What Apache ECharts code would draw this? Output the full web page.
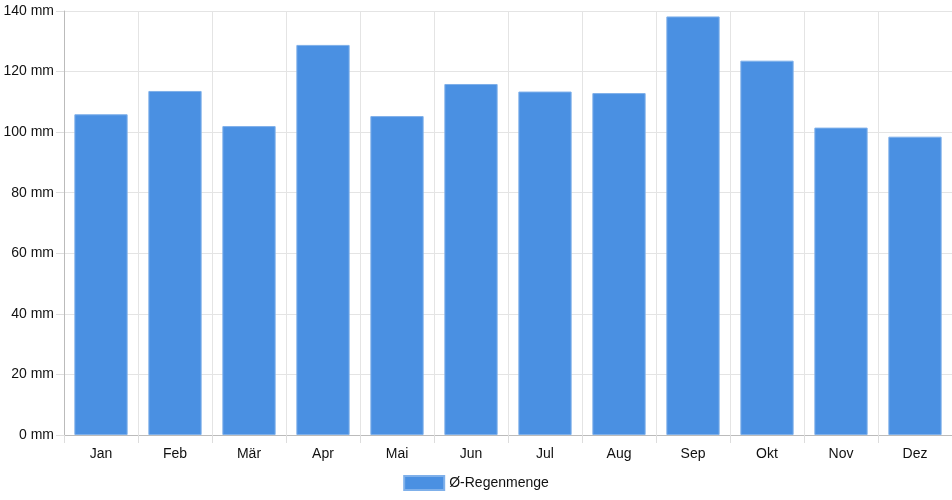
<!DOCTYPE html>
<html>
<head>
<meta charset="utf-8">
<script src="https://cdn.jsdelivr.net/npm/echarts@6/dist/echarts.min.js"></script>
<style>
  html, body { margin: 0; padding: 0; background: #fff; }
  #main { width: 952px; height: 500px; }
</style>
</head>
<body>
<div id="main"></div>
<script>
// Monatsnamen und mittlere Regenmenge (mm)
var months = ['Jan', 'Feb', 'Mär', 'Apr', 'Mai', 'Jun', 'Jul', 'Aug', 'Sep', 'Okt', 'Nov', 'Dez'];
var rain = [105.9, 113.6, 102.0, 128.8, 105.3, 115.9, 113.4, 112.9, 138.2, 123.6, 101.5, 98.5];
var seriesName = 'Ø-Regenmenge';

var myChart = echarts.init(document.getElementById('main'));
var option = {
    animation: false,
    textStyle: { fontFamily: 'Liberation Sans, Arial, sans-serif' },
    grid: { left: 64, right: 0, top: 11, bottom: 65, containLabel: false },
    legend: {
        bottom: 4,
        left: 'center',
        icon: 'rect',
        itemWidth: 40,
        itemHeight: 14,
        itemGap: 6,
        textStyle: { fontSize: 14, color: '#111' },
        data: [seriesName]
    },
    xAxis: {
        type: 'category',
        data: months,
        axisLine: { lineStyle: { color: '#bbb' } },
        axisTick: { show: true, length: 8, lineStyle: { color: '#ddd' } },
        axisLabel: { color: '#111', fontSize: 14, margin: 12 },
        splitLine: { show: true, lineStyle: { color: '#e4e4e4' } }
    },
    yAxis: {
        type: 'value',
        min: 0,
        max: 140,
        interval: 20,
        axisLine: { show: true, lineStyle: { color: '#bbb' } },
        axisTick: { show: true, length: 8, lineStyle: { color: '#ddd' } },
        axisLabel: { color: '#111', fontSize: 14, margin: 10, formatter: '{value} mm' },
        splitLine: { show: true, lineStyle: { color: '#e4e4e4' } }
    },
    series: [{
        name: seriesName,
        type: 'bar',
        data: rain,
        barWidth: '72%',
        itemStyle: { color: '#4a90e2', borderColor: '#7fb0ea', borderWidth: 1 }
    }]
};
myChart.setOption(option);
</script>
</body>
</html>
